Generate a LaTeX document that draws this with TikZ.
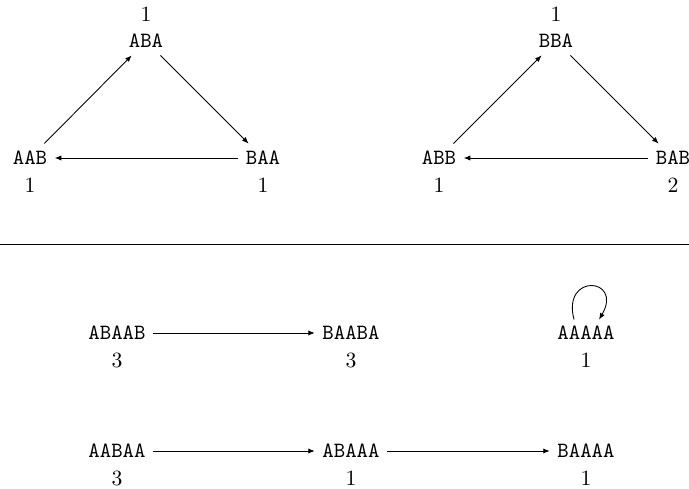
\documentclass[tikz,border=0pt]{standalone}
\usetikzlibrary{arrows.meta}
\begin{document}
\begin{tikzpicture}[x=0.46pt,y=-0.46pt,
  st/.style={font=\ttfamily},
  arr/.style={-{Latex[length=3pt,width=2.4pt]}},
  lab/.style={label distance=-1pt}]
\useasboundingbox (0,0) rectangle (689,489);
% top-left
\node[st,label={[lab]above:1}] (aba) at (146,41) {ABA};
\node[st,label={[lab]below:1}] (aab) at (30,158) {AAB};
\node[st,label={[lab]below:1}] (baa) at (263,158) {BAA};
\draw[arr] (aab) -- (aba);
\draw[arr] (aba) -- (baa);
\draw[arr] (baa) -- (aab);
% top-right
\node[st,label={[lab]above:1}] (bba) at (556,41) {BBA};
\node[st,label={[lab]below:1}] (abb) at (439,158) {ABB};
\node[st,label={[lab]below:2}] (bab) at (673,158) {BAB};
\draw[arr] (abb) -- (bba);
\draw[arr] (bba) -- (bab);
\draw[arr] (bab) -- (abb);
% rule
\coordinate (rl) at (0,244);
\coordinate (rr) at (689,244);
\draw (rl) -- (rr);
% middle row
\node[st,label={[lab]below:3}] (abaab) at (117,333) {ABAAB};
\node[st,label={[lab]below:3}] (baaba) at (351,333) {BAABA};
\node[st,label={[lab]below:1}] (aaaaa) at (586,333) {AAAAA};
\draw[arr] (abaab) -- (baaba);
\draw[arr] ([xshift=-5.5pt,yshift=-0.5pt]aaaaa.north) to[out=105,in=60,looseness=5] ([xshift=6pt,yshift=-0.5pt]aaaaa.north);
% bottom row
\node[st,label={[lab]below:3}] (aabaa) at (117,451) {AABAA};
\node[st,label={[lab]below:1}] (abaaa) at (351,451) {ABAAA};
\node[st,label={[lab]below:1}] (baaaa) at (586,451) {BAAAA};
\draw[arr] (aabaa) -- (abaaa);
\draw[arr] (abaaa) -- (baaaa);
\end{tikzpicture}
\end{document}
